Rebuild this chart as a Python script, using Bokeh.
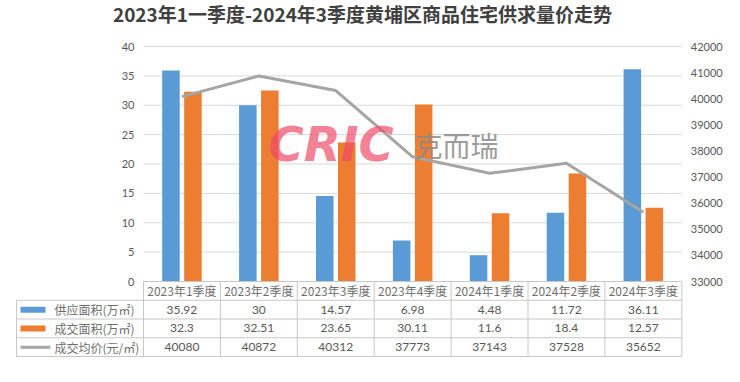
from bokeh.plotting import figure
from bokeh.models import Range1d, LinearAxis, FixedTicker, ColumnDataSource
from bokeh.transform import dodge
from bokeh.core.properties import value
from bokeh.embed import file_html
from bokeh.resources import INLINE

# ---------------- data ----------------
title_text = "2023年1一季度-2024年3季度黄埔区商品住宅供求量价走势"
categories = ["2023年1季度", "2023年2季度", "2023年3季度", "2023年4季度",
              "2024年1季度", "2024年2季度", "2024年3季度"]
supply = [35.92, 30, 14.57, 6.98, 4.48, 11.72, 36.11]
sold = [32.3, 32.51, 23.65, 30.11, 11.6, 18.4, 12.57]
price = [40080, 40872, 40312, 37773, 37143, 37528, 35652]
series_names = ["供应面积(万㎡)", "成交面积(万㎡)", "成交均价(元/㎡)"]
left_ticks = [0, 5, 10, 15, 20, 25, 30, 35, 40]
right_ticks = [33000, 34000, 35000, 36000, 37000, 38000, 39000, 40000, 41000, 42000]

# ---------------- layout constants (page pixels) ----------------
W, H = 724, 366
OX, OY = 8, 8
X0_PX, COL_PX = 151.0, 76.9      # left edge of first category column, column width
Y0_PX, YTOP_PX = 289.0, 54.0     # value-axis 0 and top tick
TBL_BOTTOM_PX = 364.0
ROW_PX = (TBL_BOTTOM_PX - Y0_PX) / 4
LEFT_PX = 24.0

n = len(categories)
L0, L1 = left_ticks[0], left_ticks[-1]
R0, R1 = right_ticks[0], right_ticks[-1]


def xd(px):
    return (px - X0_PX) / COL_PX


def yd(py):
    return L0 + (Y0_PX - py) * (L1 - L0) / (Y0_PX - YTOP_PX)


def pdv(py):
    return R0 + (Y0_PX - py) * (R1 - R0) / (Y0_PX - YTOP_PX)


def td(py):
    return (TBL_BOTTOM_PX - py) / ROW_PX


fl, fr, ft, fb = OX, OX + W, OY, OY + H

BLUE, ORANGE, GREY = "#5b9bd5", "#ed7d31", "#a5a5a5"
TXT = "#595959"
LINEC = "#c8c8c8"
GRIDC = "#d9d9d9"

p = figure(width=W, height=H,
           x_range=Range1d(xd(fl), xd(fr)),
           y_range=Range1d(yd(fb), yd(ft)),
           output_backend="svg", toolbar_location=None,
           x_axis_location=None, y_axis_location=None,
           min_border=0, outline_line_color=None,
           background_fill_color="white", border_fill_color="white")
p.extra_y_ranges = {"price": Range1d(pdv(fb), pdv(ft)),
                    "tbl": Range1d(td(fb), td(ft))}
p.xgrid.grid_line_color = None
p.ygrid.grid_line_color = None

src = ColumnDataSource(dict(idx=[i + 0.5 for i in range(n)],
                            supply=supply, sold=sold, price=price))

# gridlines
gt = left_ticks[1:]
p.segment(x0=[0] * len(gt), x1=[n] * len(gt), y0=gt, y1=gt,
          line_color=GRIDC, line_width=1)

# bars
p.vbar(x=dodge("idx", -0.143), top="supply", width=0.228, source=src,
       fill_color=BLUE, line_color=None)
p.vbar(x=dodge("idx", 0.143), top="sold", width=0.228, source=src,
       fill_color=ORANGE, line_color=None)

# price line
p.line("idx", "price", source=src, y_range_name="price",
       line_color=GREY, line_width=3, line_join="round")

# axes
common = dict(axis_line_color=None, major_tick_line_color=None,
              minor_tick_line_color=None, major_tick_in=0, major_tick_out=0,
              major_label_standoff=9, major_label_text_font_size="11px",
              major_label_text_color=TXT, major_label_text_font="Lato")
ly = LinearAxis(fixed_location=0, ticker=FixedTicker(ticks=left_ticks), **common)
p.add_layout(ly, "left")
ry = LinearAxis(fixed_location=n, y_range_name="price",
                ticker=FixedTicker(ticks=right_ticks), **common)
p.add_layout(ry, "right")

# table grid
xl = xd(LEFT_PX)
hx0 = [0, xl, xl, xl, xl]
hy = [4, 3, 2, 1, 0]
p.segment(x0=hx0, x1=[n] * 5, y0=hy, y1=hy, y_range_name="tbl",
          line_color=LINEC, line_width=1)
vx = list(range(n + 1)) + [xl]
vy1 = [4] * (n + 1) + [3]
p.segment(x0=vx, x1=vx, y0=[0] * len(vx), y1=vy1, y_range_name="tbl",
          line_color=LINEC, line_width=1)

# table header
p.text(x=[i + 0.5 for i in range(n)], y=[3.5] * n, text=categories,
       y_range_name="tbl", text_align="center", text_baseline="middle",
       text_font=value("Noto Sans CJK SC"), text_font_size="12px",
       text_color="#6f6f6f")

# table values
for r, vals in enumerate([supply, sold, price]):
    p.text(x=[i + 0.5 for i in range(n)], y=[2.5 - r] * n,
           text=[f"{v:g}" for v in vals], y_range_name="tbl",
           text_align="center", text_baseline="middle",
           text_font=value("Lato"), text_font_size="12px", text_color=TXT)

# legend keys in table
p.rect(x=[xd(40.5)] * 2, y=[2.5, 1.5], width=25 / COL_PX, height=6 / ROW_PX,
       y_range_name="tbl", fill_color=[BLUE, ORANGE], line_color=None)
p.segment(x0=[xd(28)], x1=[xd(58)], y0=[0.5], y1=[0.5], y_range_name="tbl",
          line_color=GREY, line_width=3)
p.text(x=[xd(62)] * 3, y=[2.5, 1.5, 0.5], text=series_names, y_range_name="tbl",
       text_align="left", text_baseline="middle",
       text_font=value("Noto Sans CJK SC"), text_font_size="12px",
       text_color="#6f6f6f")

# watermark
p.text(x=[xd(276)], y=[yd(151)], text=["CRIC"], text_align="left",
       text_baseline="middle", text_font=value("DejaVu Sans"),
       text_font_style="bold italic", text_font_size="48px",
       text_color="#ef4a68", text_alpha=0.7)
p.text(x=[xd(422)], y=[yd(152)], text=["克而瑞"], text_align="left",
       text_baseline="middle", text_font=value("Noto Sans CJK SC"),
       text_font_size="28px", text_color="#8a8a8a", text_alpha=0.85)

# title
p.text(x=[xd(370)], y=[yd(21)], text=[title_text], text_align="center",
       text_baseline="middle", text_font=value("Noto Sans CJK SC"),
       text_font_style="bold", text_font_size="19px", text_color="#404040")

open("out.html", "w").write(file_html(p, INLINE))
